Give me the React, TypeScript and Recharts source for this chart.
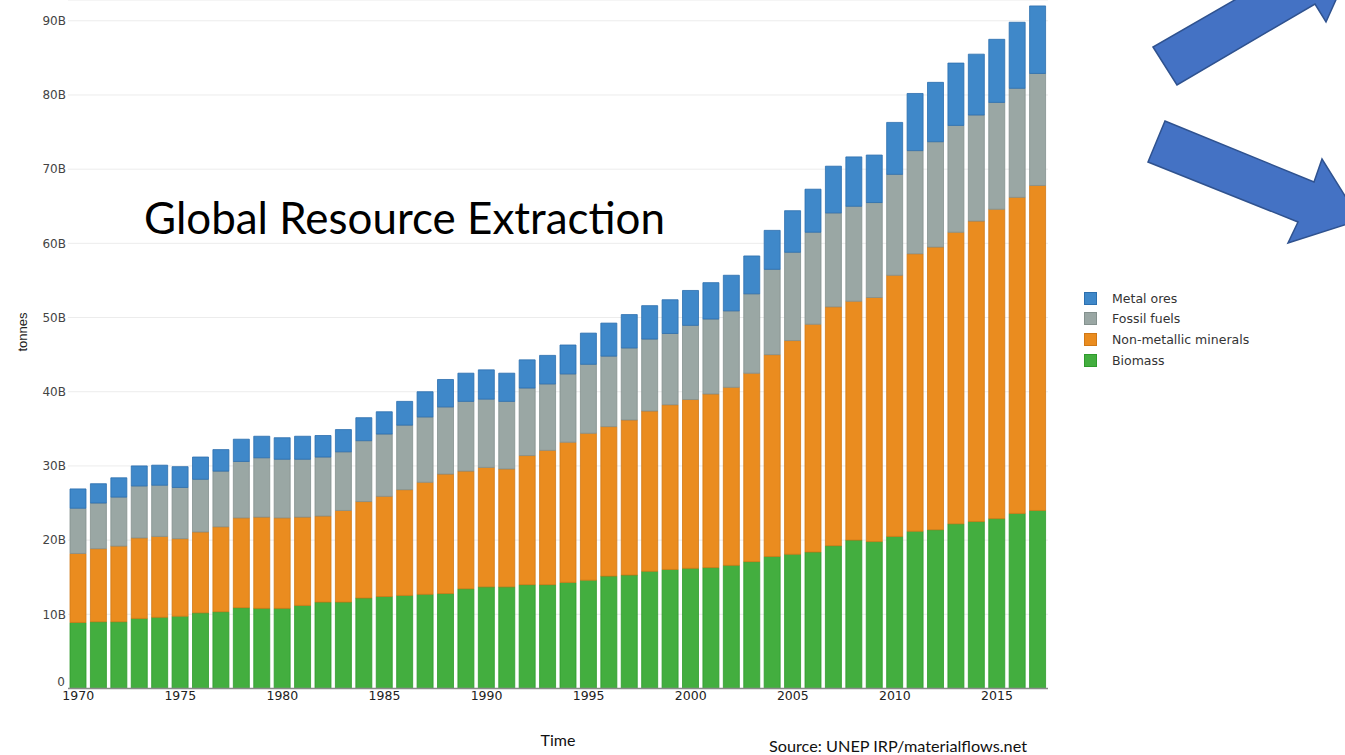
import React from 'react';
import { BarChart, Bar, XAxis, YAxis, CartesianGrid } from 'recharts';

const YEARS = [
  '1970', '1971', '1972', '1973', '1974', '1975', '1976', '1977', '1978', '1979',
  '1980', '1981', '1982', '1983', '1984', '1985', '1986', '1987', '1988', '1989',
  '1990', '1991', '1992', '1993', '1994', '1995', '1996', '1997', '1998', '1999',
  '2000', '2001', '2002', '2003', '2004', '2005', '2006', '2007', '2008', '2009',
  '2010', '2011', '2012', '2013', '2014', '2015', '2016', '2017',
];

// billions of tonnes
const BIOMASS = [
  8.9, 9.0, 9.0, 9.45, 9.6, 9.75, 10.2, 10.35, 10.9, 10.8,
  10.8, 11.2, 11.65, 11.65, 12.2, 12.4, 12.55, 12.7, 12.8, 13.45,
  13.7, 13.7, 14.0, 14.0, 14.3, 14.6, 15.15, 15.3, 15.8, 16.05,
  16.2, 16.3, 16.6, 17.1, 17.8, 18.1, 18.4, 19.25, 20.0, 19.8,
  20.5, 21.2, 21.4, 22.2, 22.5, 22.9, 23.6, 24.0,
];
const NON_METALLIC = [
  9.3, 9.85, 10.2, 10.85, 10.9, 10.45, 10.9, 11.45, 12.1, 12.3,
  12.2, 11.9, 11.6, 12.35, 13.0, 13.5, 14.25, 15.1, 16.1, 15.85,
  16.1, 15.9, 17.4, 18.1, 18.9, 19.8, 20.15, 20.9, 21.6, 22.2,
  22.75, 23.4, 24.0, 25.4, 27.2, 28.8, 30.7, 32.2, 32.2, 32.9,
  35.2, 37.4, 38.1, 39.3, 40.5, 41.7, 42.6, 43.8,
];
const FOSSIL = [
  6.1, 6.15, 6.6, 7.0, 6.9, 6.9, 7.1, 7.5, 7.6, 8.0,
  7.9, 7.8, 7.95, 7.9, 8.2, 8.4, 8.7, 8.8, 9.05, 9.4,
  9.2, 9.1, 9.1, 8.95, 9.2, 9.3, 9.5, 9.7, 9.7, 9.6,
  10.0, 10.1, 10.3, 10.7, 11.5, 11.9, 12.4, 12.65, 12.8, 12.8,
  13.6, 13.9, 14.2, 14.4, 14.3, 14.4, 14.7, 15.1,
];
const METAL = [
  2.6, 2.6, 2.6, 2.7, 2.7, 2.8, 3.0, 2.9, 3.0, 2.9,
  2.9, 3.1, 2.9, 3.0, 3.1, 3.0, 3.2, 3.4, 3.7, 3.8,
  3.95, 3.8, 3.8, 3.85, 3.9, 4.2, 4.45, 4.5, 4.5, 4.55,
  4.7, 4.9, 4.8, 5.1, 5.25, 5.6, 5.8, 6.3, 6.65, 6.4,
  7.0, 7.7, 8.0, 8.4, 8.2, 8.5, 8.9, 9.1,
];

const Y_TICKS = [0, 10, 20, 30, 40, 50, 60, 70, 80, 90];

// stack order, bottom first
const SERIES = [
  { key: 'biomass', name: 'Biomass', fill: '#43ae3f', stroke: '#2f9a2c' },
  { key: 'nonMetallic', name: 'Non-metallic minerals', fill: '#ea8c1f', stroke: '#d07816' },
  { key: 'fossil', name: 'Fossil fuels', fill: '#9aa7a4', stroke: '#84918e' },
  { key: 'metal', name: 'Metal ores', fill: '#3f88c9', stroke: '#2c6fae' },
];

const data = YEARS.map((year, i) => ({
  year,
  biomass: BIOMASS[i],
  nonMetallic: NON_METALLIC[i],
  fossil: FOSSIL[i],
  metal: METAL[i],
}));

const FONT = '"DejaVu Sans", Verdana, sans-serif';

// the zero label sits a little higher so it clears the first year label
const YTick = ({ x, y, payload }: any) => {
  const v = payload.value;
  return (
    <text x={v === 0 ? x - 1 : x} y={v === 0 ? y - 7 : y} dy="0.355em" textAnchor="end" fontFamily={FONT} fontSize={12} fill="#444">
      {v === 0 ? '0' : `${v}B`}
    </text>
  );
};

const ChartLegend = () => (
  <div style={{ position: 'absolute', left: 1084, top: 288, fontFamily: FONT, fontSize: 12.5, color: '#333' }}>
    {[...SERIES].reverse().map((s) => (
      <div key={s.key} style={{ display: 'flex', alignItems: 'center', height: 20.6 }}>
        <span style={{ display: 'inline-block', width: 11, height: 11, background: s.fill, border: `1px solid ${s.stroke}`, marginRight: 15 }} />
        <span>{s.name}</span>
      </div>
    ))}
  </div>
);

export default function App() {
  return (
    <div style={{ position: 'fixed', left: 0, top: 0, width: 1345, height: 755, overflow: 'hidden', background: '#fff' }}>
      <BarChart
        width={1345}
        height={755}
        data={data}
        margin={{ top: 0, right: 297, bottom: 36.5, left: 8 }}
        barSize={16}
      >
        <CartesianGrid vertical={false} stroke="#ececec" strokeWidth={1} />
        <XAxis
          dataKey="year"
          interval={4}
          height={30}
          tickLine={false}
          tickSize={0}
          tickMargin={3}
          axisLine={{ stroke: '#8a8a8a', strokeWidth: 1.5 }}
          tick={{ fontFamily: FONT, fontSize: 12.5, fill: '#222' }}
        />
        <YAxis
          width={60}
          domain={[0, 92.8]}
          ticks={Y_TICKS}
          axisLine={false}
          tickLine={false}
          tickSize={0}
          tickMargin={2}
          tick={<YTick />}
        />
        {SERIES.map((s) => (
          <Bar
            key={s.key}
            dataKey={s.key}
            name={s.name}
            stackId="a"
            fill={s.fill}
            stroke={s.stroke}
            strokeWidth={0.8}
            isAnimationActive={false}
          />
        ))}
      </BarChart>

      <ChartLegend />

      <svg width={1345} height={755} style={{ position: 'absolute', left: 0, top: 0, pointerEvents: 'none' }}>
        <text x={144} y={234} fontFamily="Lato, 'Open Sans', sans-serif" fontSize={44} textLength={521} lengthAdjust="spacingAndGlyphs" fill="#000">
          Global Resource Extraction
        </text>
        <text x={22} y={332} transform="rotate(-90 22 332)" textAnchor="middle" dominantBaseline="central" fontFamily="'Liberation Sans', Arial, sans-serif" fontSize={13} fill="#222">
          tonnes
        </text>
        <text x={558} y={746} textAnchor="middle" fontFamily="Lato, sans-serif" fontSize={16} fill="#111">
          Time
        </text>
        <text x={769} y={752} fontFamily="Lato, sans-serif" fontSize={15} textLength={258} lengthAdjust="spacingAndGlyphs" fill="#111">
          Source: UNEP IRP/materialflows.net
        </text>
        <polygon
          points="1153,47 1177,85 1315,4 1326,22 1356,-45 1281,-52 1292,-33"
          fill="#4472c4"
          stroke="#2f528f"
          strokeWidth={1.5}
        />
        <polygon
          points="1148,162 1165,121 1314,182 1322,159 1360,220 1288,243 1298,222"
          fill="#4472c4"
          stroke="#2f528f"
          strokeWidth={1.5}
        />
      </svg>
    </div>
  );
}
